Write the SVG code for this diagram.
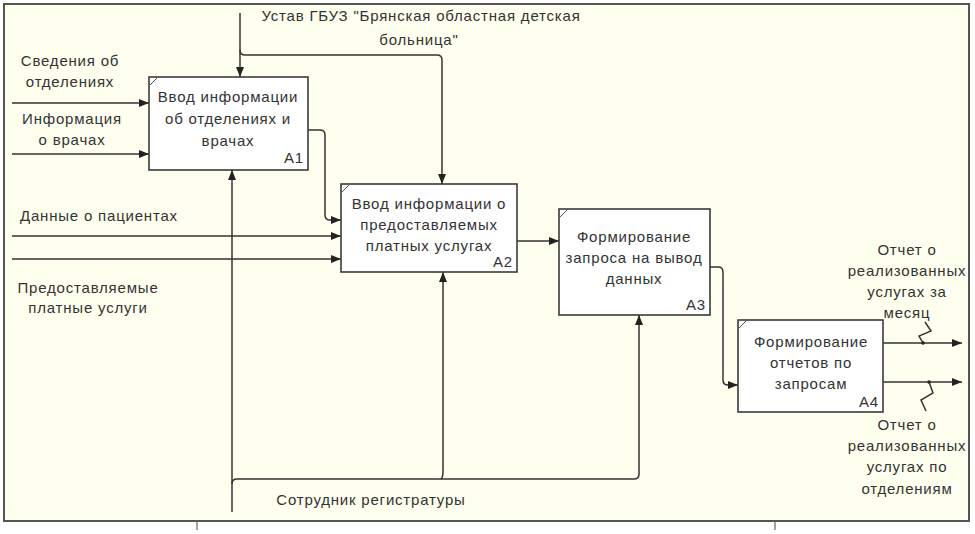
<svg xmlns="http://www.w3.org/2000/svg" width="975" height="534" viewBox="0 0 975 534">
<style>
.t{font-family:"Liberation Sans",Arial,sans-serif;font-size:15px;fill:#333333;letter-spacing:0.8px}
.c{text-anchor:middle}
.r{text-anchor:end}
.box{fill:#ffffff;stroke:#3a3a3a;stroke-width:1.6}
.notch{stroke:#555;stroke-width:1}
.ln{fill:none;stroke:#333;stroke-width:1.5}
.ar{marker-end:url(#ah)}
</style>
<defs>
<marker id="ah" viewBox="0 0 10 8" refX="10" refY="4" markerWidth="10" markerHeight="8" markerUnits="userSpaceOnUse" orient="auto">
<path d="M0 0 L10 4 L0 8 Z" fill="#222"/>
</marker>
</defs>
<rect x="0" y="0" width="975" height="534" fill="#ffffff"/>
<g id="frame">
<rect x="4" y="4" width="965" height="517" fill="#fffff0" stroke="#555" stroke-width="2"/>
<line x1="197" y1="521" x2="197" y2="530" stroke="#666" stroke-width="1.2"/>
<line x1="775" y1="521" x2="775" y2="530" stroke="#666" stroke-width="1.2"/>
</g>
<g id="connectors">
<path class="ln ar" d="M12 103 H149"/>
<path class="ln ar" d="M12 154 H149"/>
<path class="ln ar" d="M12 236 H341"/>
<path class="ln ar" d="M12 259 H341"/>
<path class="ln ar" d="M240 13 V77"/>
<path class="ln ar" d="M240 50 Q240 55 245 55 H437 Q442 55 442 60 V184"/>
<path class="ln ar" d="M308 130 H320 Q325 130 325 135 V215 Q325 220 330 220 H341"/>
<path class="ln ar" d="M232 512 V170"/>
<path class="ln ar" d="M232 484 Q232 479 237 479 H634 Q639 479 639 474 V315"/>
<path class="ln ar" d="M441 479 Q443 477 443 472 V272"/>
<path class="ln ar" d="M517 241 H559"/>
<path class="ln ar" d="M710 267 H718 Q723 267 723 272 V380 Q723 385 728 385 H738"/>
<path class="ln ar" d="M883 343 H962"/>
<path class="ln ar" d="M883 382 H962"/>
<path class="ln" d="M925 322 L931 331 L919 336 L923 343"/>
<path class="ln" d="M929 382 L933 393 L921 400 L926 411"/>
<circle cx="923" cy="343" r="1.8" fill="#222"/>
<circle cx="929" cy="382" r="1.8" fill="#222"/>
</g>
<g id="A1">
<rect class="box" x="149" y="77" width="159" height="93"/>
<line class="notch" x1="150" y1="85" x2="157" y2="78"/>
<text class="t c" x="228" y="102">Ввод информации</text>
<text class="t c" x="228" y="124">об отделениях и</text>
<text class="t c" x="228" y="146">врачах</text>
<text class="t r" x="304" y="163">A1</text>
</g>
<g id="A2">
<rect class="box" x="341" y="184" width="176" height="88"/>
<line class="notch" x1="342" y1="192" x2="349" y2="185"/>
<text class="t c" x="429" y="209">Ввод информации о</text>
<text class="t c" x="429" y="230">предоставляемых</text>
<text class="t c" x="429" y="251">платных услугах</text>
<text class="t r" x="513" y="267">A2</text>
</g>
<g id="A3">
<rect class="box" x="559" y="209" width="151" height="106"/>
<line class="notch" x1="560" y1="217" x2="567" y2="210"/>
<text class="t c" x="634" y="242">Формирование</text>
<text class="t c" x="634" y="263">запроса на вывод</text>
<text class="t c" x="634" y="284">данных</text>
<text class="t r" x="706" y="310">A3</text>
</g>
<g id="A4">
<rect class="box" x="738" y="320" width="145" height="92"/>
<line class="notch" x1="739" y1="328" x2="746" y2="321"/>
<text class="t c" x="811" y="347">Формирование</text>
<text class="t c" x="811" y="368">отчетов по</text>
<text class="t c" x="811" y="389">запросам</text>
<text class="t r" x="879" y="407">A4</text>
</g>
<g id="labels">
<text class="t c" x="70" y="66">Сведения об</text>
<text class="t c" x="70" y="87">отделениях</text>
<text class="t c" x="72" y="124">Информация</text>
<text class="t c" x="72" y="145">о врачах</text>
<text class="t" x="20" y="221">Данные о пациентах</text>
<text class="t c" x="88" y="293">Предоставляемые</text>
<text class="t c" x="88" y="313">платные услуги</text>
<text class="t c" x="421" y="21">Устав ГБУЗ "Брянская областная детская</text>
<text class="t c" x="419" y="45">больница"</text>
<text class="t c" x="371" y="505">Сотрудник регистратуры</text>
<text class="t c" x="907" y="255">Отчет о</text>
<text class="t c" x="907" y="276">реализованных</text>
<text class="t c" x="907" y="297">услугах за</text>
<text class="t c" x="907" y="318">месяц</text>
<text class="t c" x="907" y="430">Отчет о</text>
<text class="t c" x="907" y="451">реализованных</text>
<text class="t c" x="907" y="472">услугах по</text>
<text class="t c" x="907" y="494">отделениям</text>
</g>
</svg>
